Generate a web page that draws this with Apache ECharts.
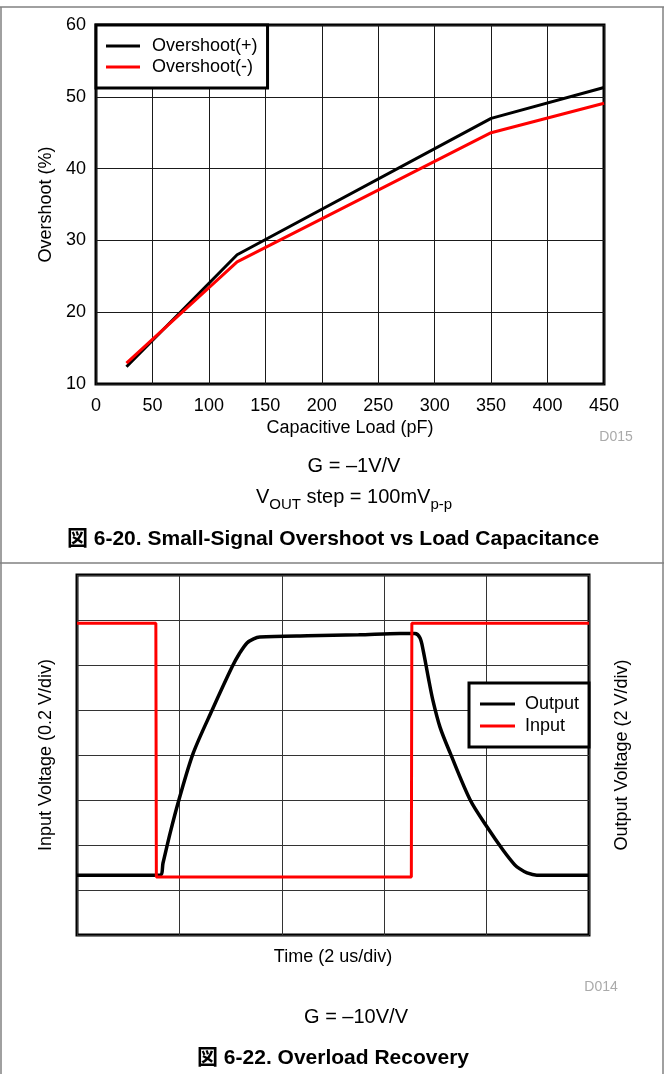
<!DOCTYPE html>
<html><head><meta charset="utf-8">
<script src="https://cdn.jsdelivr.net/npm/echarts@6/dist/echarts.min.js"></script>
<style>html,body{margin:0;padding:0;background:#fff}#c{width:664px;height:1074px}</style>
</head><body><div id="c"></div>
<script>
// ---------- Chart 1: Small-Signal Overshoot vs Load Capacitance ----------
const capLoadPF      = [27, 125, 350, 450];
const overshootPlus  = [12.4, 28, 47, 51.3];
const overshootMinus = [12.9, 27, 45, 49.1];
const capTicks       = [0, 50, 100, 150, 200, 250, 300, 350, 400, 450];
const overshootTicks = [10, 20, 30, 40, 50, 60];

// ---------- Chart 2: Overload Recovery ----------
const outputTimeUs = [0, 1.62, 1.68, 1.82, 1.99, 2.27, 2.64, 3.03, 3.17, 3.32, 3.45, 3.57, 4.5, 5.5, 6.31, 6.60, 6.70, 6.76, 6.86, 6.95, 7.09, 7.29, 7.68, 8.01, 8.32, 8.55, 8.65, 8.79, 8.98, 10];
const outputVolts  = [-5.34, -5.34, -4.80, -3.46, -2.00, 0.08, 2.00, 3.92, 4.50, 4.98, 5.16, 5.24, 5.30, 5.34, 5.40, 5.40, 5.20, 4.66, 3.46, 2.44, 1.24, 0.08, -2.00, -3.20, -4.22, -4.88, -5.06, -5.24, -5.34, -5.34];
const inputTimeUs  = [0, 1.54, 1.55, 6.53, 6.54, 10];
const inputMilliV  = [586, 586, -542, -542, 586, 586];
const timeTicks    = [0, 2, 4, 6, 8, 10];          // 2 us/div
const inputTicksMv = [-800, -600, -400, -200, 0, 200, 400, 600, 800]; // 0.2 V/div
const outputTicksV = [-8, -6, -4, -2, 0, 2, 4, 6, 8];                 // 2 V/div

const FONT = "'Liberation Sans', Arial, 'Noto Sans CJK JP', sans-serif";
const zip = (a, b) => a.map((v, i) => [v, b[i]]);
const rng = t => ({ min: t[0], max: t[t.length - 1], interval: t[1] - t[0] });
const split = c => ({ show: true, lineStyle: { color: c, width: 1 } });

const chart = echarts.init(document.getElementById('c'), null, { renderer: 'canvas' });
chart.setOption({
  animation: false,
  backgroundColor: '#fff',
  textStyle: { fontFamily: FONT },
  grid: [
    { left: 96, top: 25, width: 508, height: 359, show: true, borderColor: '#000', borderWidth: 3, backgroundColor: 'transparent' },
    { left: 77, top: 575, width: 512, height: 360, show: true, borderColor: '#000', borderWidth: 3, backgroundColor: 'transparent' }
  ],
  xAxis: [
    { type: 'value', gridIndex: 0, ...rng(capTicks),
      axisLine: { show: false }, axisTick: { show: false },
      axisLabel: { color: '#000', fontSize: 18, margin: 13, fontFamily: FONT },
      splitLine: split('#1a1a1a'),
      name: 'Capacitive Load (pF)', nameLocation: 'middle', nameGap: 35,
      nameTextStyle: { color: '#000', fontSize: 18, fontFamily: FONT } },
    { type: 'value', gridIndex: 1, ...rng(timeTicks),
      axisLine: { show: false }, axisTick: { show: false }, axisLabel: { show: false },
      splitLine: split('#333'),
      name: 'Time (2 us/div)', nameLocation: 'middle', nameGap: 13,
      nameTextStyle: { color: '#000', fontSize: 18, fontFamily: FONT } }
  ],
  yAxis: [
    { type: 'value', gridIndex: 0, ...rng(overshootTicks),
      axisLine: { show: false }, axisTick: { show: false },
      axisLabel: { color: '#000', fontSize: 18, margin: 10, fontFamily: FONT },
      splitLine: split('#1a1a1a'),
      name: 'Overshoot (%)', nameLocation: 'middle', nameGap: 41,
      nameTextStyle: { color: '#000', fontSize: 18, fontFamily: FONT } },
    { type: 'value', gridIndex: 1, ...rng(inputTicksMv),
      axisLine: { show: false }, axisTick: { show: false }, axisLabel: { show: false },
      splitLine: split('#333'),
      name: 'Input Voltage (0.2 V/div)', nameLocation: 'middle', nameGap: 22,
      nameTextStyle: { color: '#000', fontSize: 18, fontFamily: FONT } },
    { type: 'value', gridIndex: 1, position: 'right', ...rng(outputTicksV),
      axisLine: { show: false }, axisTick: { show: false }, axisLabel: { show: false },
      splitLine: { show: false },
      name: 'Output Voltage (2 V/div)', nameLocation: 'middle', nameGap: 24,
      nameTextStyle: { color: '#000', fontSize: 18, fontFamily: FONT } }
  ],
  legend: [
    { data: ['Overshoot(+)', 'Overshoot(-)'], orient: 'vertical', left: 96, top: 25,
      icon: 'rect', padding: [11, 10, 11, 10], itemGap: 1, itemWidth: 34, itemHeight: 3,
      borderColor: '#000', borderWidth: 3, backgroundColor: '#fff',
      textStyle: { color: '#000', fontSize: 18, lineHeight: 20, fontFamily: FONT, padding: [0, 0, 0, 7] } },
    { data: ['Output', 'Input'], orient: 'vertical', left: 469, top: 683,
      icon: 'rect', padding: [11, 10, 11, 11], itemGap: 2, itemWidth: 35, itemHeight: 3,
      borderColor: '#000', borderWidth: 3, backgroundColor: '#fff',
      textStyle: { color: '#000', fontSize: 18, lineHeight: 20, fontFamily: FONT, padding: [0, 0, 0, 5] } }
  ],
  series: [
    { name: 'Overshoot(+)', type: 'line', xAxisIndex: 0, yAxisIndex: 0, symbol: 'none',
      data: zip(capLoadPF, overshootPlus), lineStyle: { color: '#000', width: 3 }, itemStyle: { color: '#000' } },
    { name: 'Overshoot(-)', type: 'line', xAxisIndex: 0, yAxisIndex: 0, symbol: 'none',
      data: zip(capLoadPF, overshootMinus), lineStyle: { color: '#ff0000', width: 3 }, itemStyle: { color: '#ff0000' } },
    { name: 'Output', type: 'line', xAxisIndex: 1, yAxisIndex: 2, symbol: 'none', z: 2,
      smooth: 0.3,
      data: zip(outputTimeUs, outputVolts), lineStyle: { color: '#000', width: 3.5 }, itemStyle: { color: '#000' } },
    { name: 'Input', type: 'line', xAxisIndex: 1, yAxisIndex: 1, symbol: 'none', z: 3,
      data: zip(inputTimeUs, inputMilliV), lineStyle: { color: '#ff0000', width: 3 }, itemStyle: { color: '#ff0000' } }
  ],
  graphic: [
    { type: 'line', shape: { x1: 0, y1: 7, x2: 664, y2: 7 }, style: { stroke: '#808080', lineWidth: 1.5 } },
    { type: 'line', shape: { x1: 1, y1: 7, x2: 1, y2: 1074 }, style: { stroke: '#808080', lineWidth: 1.5 } },
    { type: 'line', shape: { x1: 663, y1: 7, x2: 663, y2: 1074 }, style: { stroke: '#808080', lineWidth: 1.5 } },
    { type: 'line', shape: { x1: 0, y1: 563, x2: 664, y2: 563 }, style: { stroke: '#808080', lineWidth: 1.5 } },
    { type: 'text', x: 616, y: 437, style: { text: 'D015', fill: '#aaaaaa', font: '14px ' + FONT, align: 'center', verticalAlign: 'middle' } },
    { type: 'text', x: 354, y: 466, style: { text: 'G = \u20131V/V', fill: '#000', font: '20px ' + FONT, align: 'center', verticalAlign: 'middle' } },
    { type: 'text', x: 354, y: 499, style: {
        text: '{a|V}{s|OUT}{a| step = 100mV}{s|p-p}', align: 'center', verticalAlign: 'middle',
        rich: {
          a: { fontSize: 20, fontFamily: FONT, fill: '#000', color: '#000', lineHeight: 24, verticalAlign: 'top' },
          s: { fontSize: 15, fontFamily: FONT, fill: '#000', color: '#000', lineHeight: 18, padding: [10, 0, 0, 0], verticalAlign: 'top' }
        } } },
    { type: 'text', x: 333, y: 539, style: { text: '\u56f3 6-20. Small-Signal Overshoot vs Load Capacitance', fill: '#000', font: 'bold 21px ' + FONT, align: 'center', verticalAlign: 'middle' } },
    { type: 'text', x: 601, y: 987, style: { text: 'D014', fill: '#aaaaaa', font: '14px ' + FONT, align: 'center', verticalAlign: 'middle' } },
    { type: 'text', x: 356, y: 1017, style: { text: 'G = \u201310V/V', fill: '#000', font: '20px ' + FONT, align: 'center', verticalAlign: 'middle' } },
    { type: 'text', x: 333, y: 1058, style: { text: '\u56f3 6-22. Overload Recovery', fill: '#000', font: 'bold 21px ' + FONT, align: 'center', verticalAlign: 'middle' } }
  ]
});
</script>
</body></html>
